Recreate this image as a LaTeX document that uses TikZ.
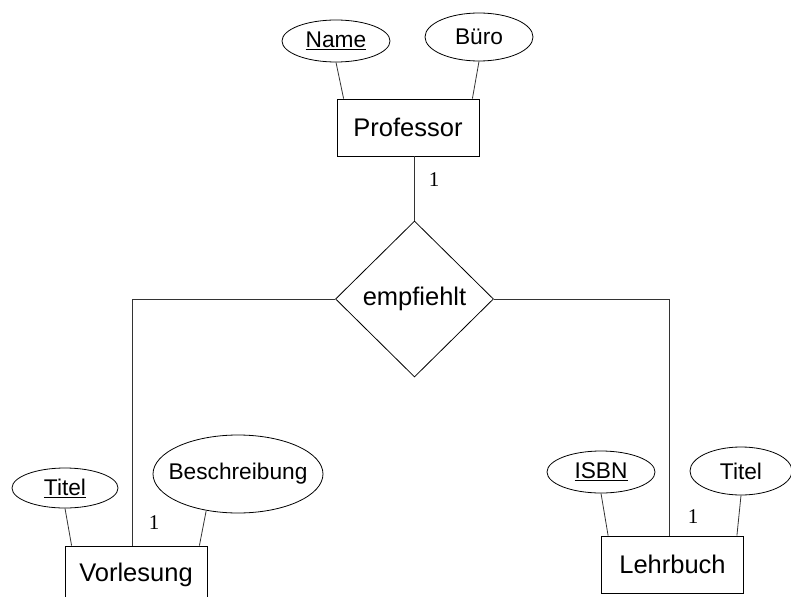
\documentclass[tikz,border=0pt]{standalone}
\usepackage{fontspec}
\setmainfont{Liberation Sans}
\newfontfamily\numfont{Liberation Serif}
\usetikzlibrary{shapes.geometric,calc}
\begin{document}
\begin{tikzpicture}[x=1pt,y=-1pt,
  entity/.style={draw,line width=0.8pt,rectangle,minimum width=142pt,minimum height=57pt,inner sep=0pt,font=\fontsize{25.5}{30}\selectfont},
  attr/.style={draw,line width=0.8pt,ellipse,inner sep=0pt,font=\fontsize{22.7}{27}\selectfont},
  rel/.style={draw,line width=0.8pt,diamond,aspect=1,inner sep=0pt,minimum width=158pt,minimum height=156pt,font=\fontsize{25.5}{30}\selectfont},
  conn/.style={line width=0.8pt,draw=black!80},
  card/.style={font=\numfont\fontsize{21}{24}\selectfont,inner sep=0pt}]
\useasboundingbox (0,0) rectangle (791,596);
\clip (0,0) rectangle (791,596);
% entities
\node[entity] (prof) at (408,127.5) {Professor};
\node[entity] (vorl) at (136,574.5) {Vorlesung};
\node[entity] (lehr) at (672.5,564.5) {Lehrbuch};
% relationship
\node[rel] (emp) at (414.5,299) {empfiehlt};
% attributes
\node[attr,minimum width=108pt,minimum height=42pt] (name) at (336,41) {\underline{Name}};
\node[attr,minimum width=108pt,minimum height=48pt] (buero) at (479,37) {Büro};
\node[attr,minimum width=106pt,minimum height=40pt] (titelv) at (65,488) {\underline{Titel}};
\node[attr,inner xsep=-20pt,minimum width=170pt,minimum height=78pt] (besch) at (238,474) {Beschreibung};
\node[attr,minimum width=108pt,minimum height=42pt] (isbn) at (601,472) {\underline{ISBN}};
\node[attr,minimum width=102pt,minimum height=48pt] (titell) at (741,471) {Titel};
% attribute connectors
\draw[conn] (name.south) -- ($(prof.north west)+(7,0)$);
\draw[conn] (buero.south) -- ($(prof.north east)+(-7,0)$);
\draw[conn] (titelv.south) -- ($(vorl.north west)+(7,0)$);
\draw[conn] (besch.229) -- ($(vorl.north east)+(-8,0)$);
\draw[conn] (isbn.south) -- ($(lehr.north west)+(7,0)$);
\draw[conn] (titell.south) -- ($(lehr.north east)+(-7,0)$);
% relationship connectors
\draw[conn] (emp.north) -- (emp.north |- prof.south);
\coordinate (vtop) at ($(vorl.north)+(-4,0)$);
\coordinate (ltop) at ($(lehr.north)+(-3.5,0)$);
\draw[conn] (emp.west) -| (vtop);
\draw[conn] (emp.east) -| (ltop);
% cardinalities
\node[card] (c1) at (434,180) {1};
\node[card] (c2) at (154,523) {1};
\node[card] (c3) at (693,517) {1};
\end{tikzpicture}
\end{document}
